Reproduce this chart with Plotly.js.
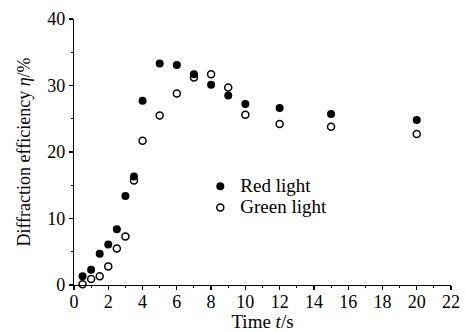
<!DOCTYPE html>
<html>
<head>
<meta charset="utf-8">
<script src="https://cdn.plot.ly/plotly-3.0.1.min.js"></script>
<style>html,body{margin:0;padding:0;background:#fff;}#chart{width:465px;height:332px;}</style>
</head>
<body>
<div id="chart"></div>
<script>
const timeRed = [0.5, 1, 1.5, 2, 2.5, 3, 3.5, 4, 5, 6, 7, 8, 9, 10, 12, 15, 20];
const redEff = [1.3, 2.3, 4.7, 6.1, 8.4, 13.4, 16.3, 27.7, 33.3, 33.1, 31.7, 30.1, 28.5, 27.2, 26.6, 25.7, 24.8];
const timeGreen = [0.5, 1, 1.5, 2, 2.5, 3, 3.5, 4, 5, 6, 7, 8, 9, 10, 12, 15, 20];
const greenEff = [0.1, 0.9, 1.3, 2.8, 5.5, 7.3, 15.7, 21.7, 25.5, 28.8, 31.2, 31.7, 29.7, 25.6, 24.2, 23.8, 22.7];
const seriesNames = ["Red light", "Green light"];

const fontFam = "Liberation Serif, Times New Roman, serif";
const legName = s => '<span style="font-size:19px">' + s + '</span>';

const traces = [
  {
    x: timeRed, y: redEff, name: legName(seriesNames[0]), type: "scatter", mode: "markers",
    marker: {symbol: "circle", size: 8, color: "#000"}, cliponaxis: false
  },
  {
    x: timeGreen, y: greenEff, name: legName(seriesNames[1]), type: "scatter", mode: "markers",
    marker: {symbol: "circle-open", size: 7, color: "#000", line: {width: 1.5, color: "#000"}}, cliponaxis: false
  }
];

const axisCommon = {
  showline: true, linecolor: "#000", linewidth: 1.2,
  ticks: "outside", ticklen: 4, tickwidth: 1.2, tickcolor: "#000",
  showgrid: false, zeroline: false,
  tickfont: {family: fontFam, size: 18, color: "#000"},
  automargin: false
};

const layout = {
  width: 465, height: 332,
  margin: {l: 74, r: 14, t: 19, b: 47},
  paper_bgcolor: "#fff", plot_bgcolor: "#fff",
  font: {family: fontFam, color: "#000"},
  showlegend: true,
  legend: {
    x: 0.335, y: 0.43, xanchor: "left", yanchor: "top",
    font: {family: fontFam, size: 14, color: "#000"},
    bgcolor: "rgba(0,0,0,0)", itemwidth: 30, tracegroupgap: 0
  },
  xaxis: Object.assign({}, axisCommon, {
    range: [0, 22], dtick: 2, tick0: 0, ticklabelstandoff: -4,
    minor: {dtick: 1, ticks: "outside", ticklen: 2, tickcolor: "#000", tickwidth: 1},
    title: {text: "Time <i>t</i>/s", font: {family: fontFam, size: 19, color: "#000"}, standoff: 0}
  }),
  yaxis: Object.assign({}, axisCommon, {
    range: [0, 40], dtick: 10, tick0: 0,
    minor: {dtick: 5, ticks: "outside", ticklen: 2, tickcolor: "#000", tickwidth: 1},
    title: {text: "Diffraction efficiency <i>η</i>/%", font: {family: fontFam, size: 18, color: "#000"}, standoff: 12}
  })
};

Plotly.newPlot("chart", traces, layout, {displayModeBar: false, staticPlot: true});
</script>
</body>
</html>
